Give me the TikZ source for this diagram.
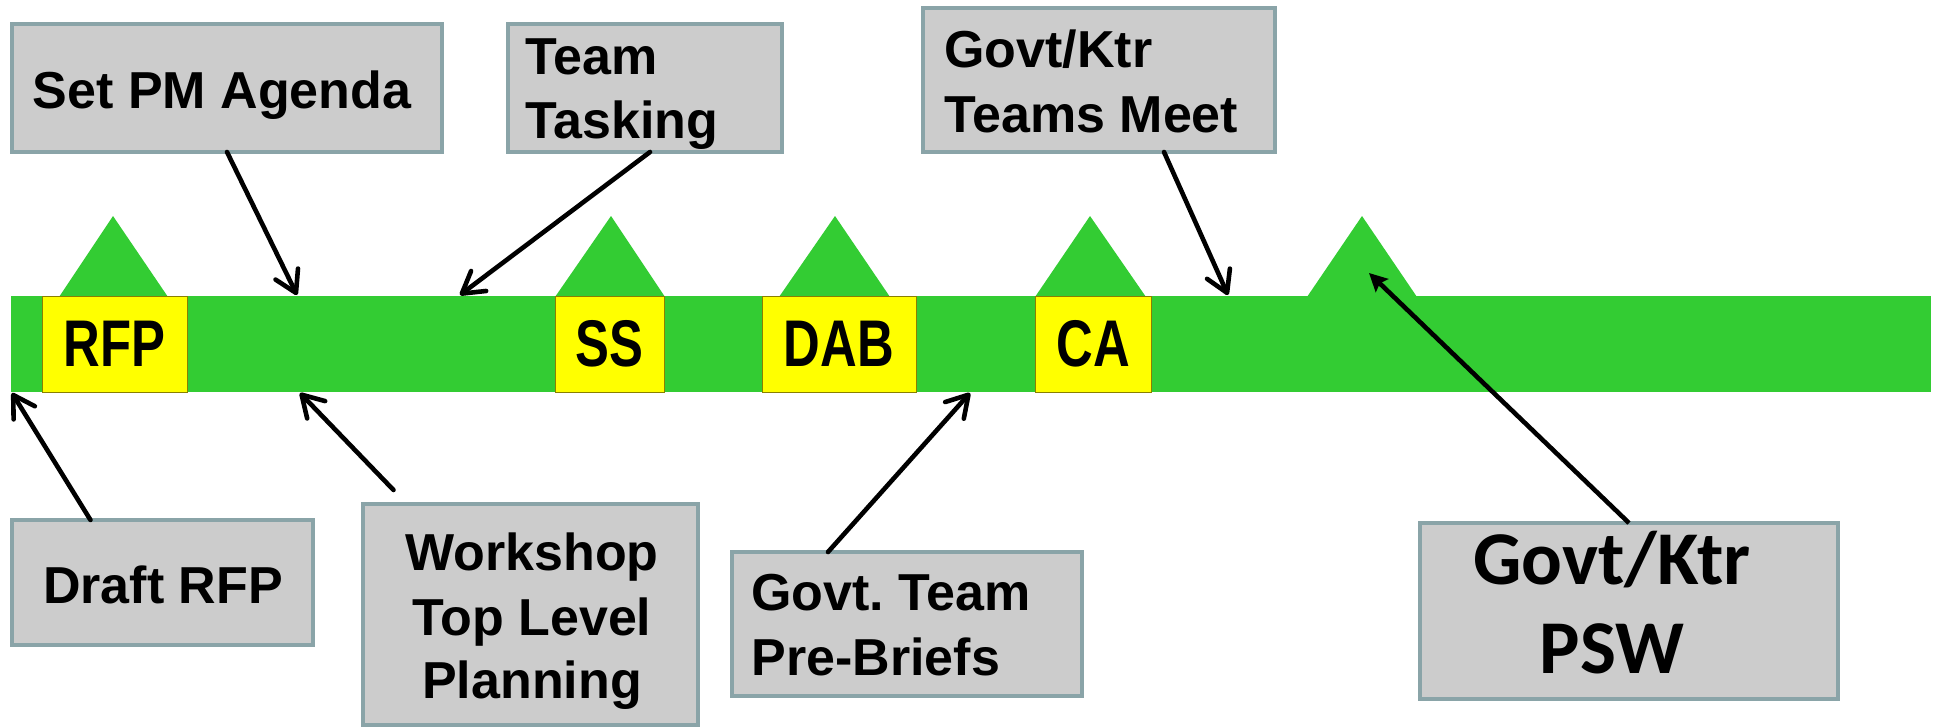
\documentclass[tikz,border=0pt]{standalone}
\usepackage{fontspec}
\setmainfont{Liberation Sans}
\newfontfamily\milestonefont{Liberation Sans}[FakeStretch=0.77]
\newfontfamily\pswfont{Carlito}
\usetikzlibrary{arrows.meta}
\definecolor{bargreen}{HTML}{33CC33}
\definecolor{msyellow}{HTML}{FFFF00}
\definecolor{msedge}{HTML}{8A8000}
\definecolor{notefill}{HTML}{CCCCCC}
\definecolor{noteedge}{HTML}{8AA4A8}
\frenchspacing

\begin{document}
\begin{tikzpicture}[x=0.5pt,y=-0.5pt,
  note/.style={draw=noteedge, fill=notefill, line width=2pt, inner sep=0pt, outer sep=0pt},
  milestone/.style={draw=msedge, fill=msyellow, line width=0.5pt, inner sep=0pt, outer sep=0pt,
    minimum height=48pt, font=\milestonefont\bfseries\fontsize{33pt}{36pt}\selectfont},
  txt/.style={inner sep=0pt, font=\bfseries\fontsize{26pt}{30pt}\selectfont},
  bigtxt/.style={inner sep=0pt, font=\pswfont\bfseries\fontsize{38pt}{44pt}\selectfont},
  conn/.style={line width=2.3pt, line cap=round, -{Straight Barb[length=10.5pt,width=12.5pt,round]}},
  solidconn/.style={line width=2.3pt, -{Stealth[length=9pt,width=9pt,inset=1.5pt]}}]

% canvas
\fill[white] (0,0) rectangle (1934,728);
\path[use as bounding box] (0,0) rectangle (1934,728);

% timeline bar with milestone peaks
\node[fill=bargreen, inner sep=0pt, outer sep=0pt, minimum width=960pt, minimum height=48pt] (bar) at (971,344) {};
\fill[bargreen] (59,297) -- (113,216) -- (168,297) -- cycle;
\fill[bargreen] (555,297) -- (611,216) -- (665,297) -- cycle;
\fill[bargreen] (779,297) -- (835,216) -- (890,297) -- cycle;
\fill[bargreen] (1035,297) -- (1090,216) -- (1146,297) -- cycle;
\fill[bargreen] (1307,297) -- (1362,216) -- (1417,297) -- cycle;

% milestone markers
\node[milestone, minimum width=72.5pt] (rfp) at (114.5,344) {RFP};
\node[milestone, minimum width=54.5pt] (ss)  at (609.5,344) {SS};
\node[milestone, minimum width=77pt]   (dab) at (839,344)   {DAB};
\node[milestone, minimum width=58pt]   (ca)  at (1093,344)  {CA};

% activity notes above the bar
\node[note, minimum width=215pt, minimum height=64pt] (pm) at (227,88) {};
\node[txt, anchor=base] (pmT) at (222,108) {Set PM Agenda};

\node[note, minimum width=137pt, minimum height=64pt] (tt) at (645,88) {};
\node[txt, anchor=base west] (ttA) at (525,75) {Team};
\node[txt, anchor=base west] (ttB) at (525,138) {Tasking};

\node[note, minimum width=176pt, minimum height=72pt] (tm) at (1099,80) {};
\node[txt, anchor=base west] (tmA) at (944,67) {Govt/Ktr};
\node[txt, anchor=base west] (tmB) at (944,132) {Teams Meet};

% activity notes below the bar
\node[note, minimum width=150.5pt, minimum height=62.5pt] (dr) at (162.5,582.5) {};
\node[txt, anchor=base] (drT) at (163,603) {Draft RFP};

\node[note, minimum width=167.5pt, minimum height=110.5pt] (ws) at (530.5,614.5) {};
\node[txt, anchor=base] (wsA) at (532,570) {Workshop};
\node[txt, anchor=base] (wsB) at (532,635) {Top Level};
\node[txt, anchor=base] (wsC) at (532,698) {Planning};

\node[note, minimum width=175pt, minimum height=72pt] (gp) at (907,624) {};
\node[txt, anchor=base west] (gpA) at (751,610) {Govt. Team};
\node[txt, anchor=base west] (gpB) at (751,675) {Pre-Briefs};

\node[note, minimum width=209pt, minimum height=88pt] (psw) at (1629,611) {};
\node[bigtxt, anchor=base] (pswA) at (1612,584) {Govt/Ktr};
\node[bigtxt, anchor=base] (pswB) at (1612,673) {PSW};

% points on the timeline
\coordinate (tPM) at (297,295);
\coordinate (tTT) at (460,295);
\coordinate (tTM) at (1228,295);
\coordinate (tDR) at (12,393);
\coordinate (tWS) at (300,393);
\coordinate (tGP) at (970,393);
\coordinate (tPSW) at (1369,273);

% connectors
\draw[conn] (pm.south) -- (tPM);
\draw[conn] ([xshift=2.5pt]tt.south) -- (tTT);
\draw[conn] ([xshift=32.5pt]tm.south) -- (tTM);
\draw[conn] ([xshift=-36pt]dr.north) -- (tDR);
\draw[conn] ([xshift=-68.5pt,yshift=7pt]ws.north) -- (tWS);
\draw[conn] ([xshift=-39.5pt]gp.north) -- (tGP);
\draw[solidconn] (psw.north) -- (tPSW);
\end{tikzpicture}
\end{document}
